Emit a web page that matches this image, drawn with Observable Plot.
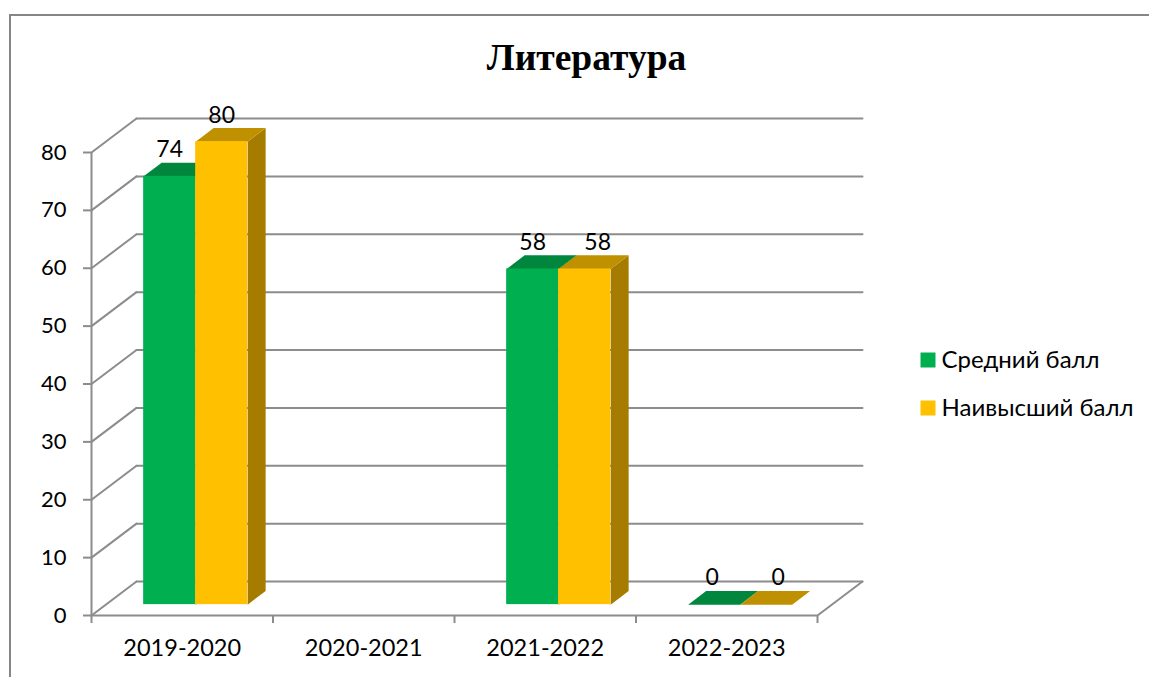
<!DOCTYPE html>
<html lang="ru">
<head>
<meta charset="utf-8">
<script src="https://cdn.jsdelivr.net/npm/d3@7"></script>
<script src="https://cdn.jsdelivr.net/npm/@observablehq/plot@0.6"></script>
<style>
html,body{margin:0;padding:0;background:#fff;overflow:hidden}
#frame{position:absolute;left:9px;top:14px;width:1140px;height:663px;border-top:2px solid #868686;border-left:2px solid #868686;box-sizing:border-box}
#chart{position:absolute;left:0;top:0}
</style>
</head>
<body>
<div id="frame"></div>
<div id="chart"></div>
<script>
const title = "Литература";
const years = ["2019-2020", "2020-2021", "2021-2022", "2022-2023"];
const average = [74, null, 58, 0];
const highest = [80, null, 58, 0];
const yTicks = [0, 10, 20, 30, 40, 50, 60, 70, 80];
const seriesNames = ["Средний балл", "Наивысший балл"];
const frontColors = ["#00B050", "#FFC000"];
const topColors = ["#00863D", "#BF9000"];
const sideColors = ["#008039", "#A67C00"];

const uiFont = "Lato, 'Noto Sans', sans-serif";
const gray = "#8C8C8C";

// 3D projection expressed in data units: one unit of depth moves a point by these amounts
const depthX = 45 / 181.5;
const depthY = 34 / 5.79;
const barFrontDepth = 0.32, barBackDepth = 0.72;
const groupGap = 0.208, barWidth = 0.2865;

const px = (x, d) => x + d * depthX;
const py = (y, d) => y + d * depthY;

const bars = [];
[average, highest].forEach((vals, s) => vals.forEach((v, i) => {
  if (v === null) return;
  const x0 = px(i + groupGap + s * barWidth, barFrontDepth);
  bars.push({series: s, year: i, value: v, x0, x1: x0 + barWidth});
}));

const face = (b, kind) => {
  const dd = (barBackDepth - barFrontDepth);
  const top0 = py(b.value, barFrontDepth), base0 = py(0, barFrontDepth);
  if (kind === "top") return [
    {x: b.x0, y: top0}, {x: b.x1, y: top0},
    {x: b.x1 + dd * depthX, y: top0 + dd * depthY}, {x: b.x0 + dd * depthX, y: top0 + dd * depthY}];
  return [
    {x: b.x1, y: base0}, {x: b.x1, y: top0},
    {x: b.x1 + dd * depthX, y: top0 + dd * depthY}, {x: b.x1 + dd * depthX, y: base0 + dd * depthY}];
};

const polys = (kind, s, fill) => bars.filter(b => b.series === s).map(b =>
  Plot.line(face(b, kind), {x: "x", y: "y", fill, stroke: "none", curve: "linear-closed"}));

const gridBack = yTicks.map(t => [{x: px(0, 1), y: py(t, 1)}, {x: px(4, 1), y: py(t, 1)}]);
const gridSide = yTicks.map(t => [{x: px(0, 0), y: py(t, 0)}, {x: px(0, 1), y: py(t, 1)}]);
const lineStyle = {x: "x", y: "y", stroke: gray, strokeWidth: 2};

const marks = [
  ...gridBack.map(g => Plot.line(g, lineStyle)),
  ...gridSide.map(g => Plot.line(g, lineStyle)),
  Plot.line([{x: px(4, 0), y: py(0, 0)}, {x: px(4, 1), y: py(0, 1)}], lineStyle),
  Plot.ruleX([0], {y1: 0, y2: 80, stroke: gray, strokeWidth: 2}),
  Plot.ruleY([0], {x1: 0, x2: 4, stroke: gray, strokeWidth: 2}),
  Plot.axisY({ticks: yTicks, tickSize: 8, tickPadding: 17, stroke: gray, strokeWidth: 2,
    color: "#000", label: null, fontSize: 22, fontFamily: uiFont, textStroke: "none"}),
  Plot.axisX({ticks: [0, 1, 2, 3, 4], tickSize: 8, stroke: gray, strokeWidth: 2, label: null, tickFormat: () => ""}),
  Plot.text(years, {x: (d, i) => i + 0.5, y: 0, text: d => d, dy: 33, fill: "#000",
    fontSize: 23.5, fontFamily: uiFont}),
];
[0, 1].forEach(s => {
  marks.push(...polys("side", s, sideColors[s]), ...polys("top", s, topColors[s]));
  marks.push(Plot.rect(bars.filter(b => b.series === s), {
    x1: "x0", x2: "x1", y1: py(0, barFrontDepth), y2: b => py(b.value, barFrontDepth),
    fill: frontColors[s], inset: 0}));
});
bars.forEach(b => {
  // Highest-score labels sharing a height with their neighbour are nudged clear of it, as in the source
  const nudge = (b.series === 1 && b.value === 58) ? 13 : (b.value === 0 ? (b.series === 1 ? 12 : -2) : 0);
  marks.push(Plot.text([b], {
    x: d => (d.x0 + d.x1) / 2, y: d => py(d.value, barFrontDepth), text: "value", dx: nudge,
    dy: b.value === 0 ? -20 : -19, lineAnchor: "bottom", fill: "#000", fontSize: 23, fontFamily: uiFont}));
});
marks.push(Plot.text([title], {frameAnchor: "top-left", dx: 586 - 91, dy: 57 - 152,
  text: d => d, textAnchor: "middle", lineAnchor: "middle", fontFamily: "'Liberation Serif', serif",
  fontWeight: "bold", fontSize: 37.5, fill: "#000"}));
seriesNames.forEach((name, i) => {
  const yc = 359.5 + i * 48;
  marks.push(Plot.dot([name], {frameAnchor: "top-left", dx: 927.5 - 91, dy: yc - 152, symbol: "square",
    r: 8.46, fill: frontColors[i], stroke: "none"}));
  marks.push(Plot.text([name], {frameAnchor: "top-left", dx: 941 - 91, dy: yc - 152, text: d => d,
    textAnchor: "start", lineAnchor: "middle", fontSize: 24, fontFamily: uiFont, fill: "#000"}));
});

const chart = Plot.plot({
  width: 1149, height: 677,
  marginLeft: 91, marginRight: 332, marginTop: 152, marginBottom: 62,
  x: {type: "linear", domain: [0, 4]},
  y: {type: "linear", domain: [0, 80]},
  style: {background: "transparent", overflow: "visible"},
  marks
});
document.getElementById("chart").appendChild(chart);
</script>
</body>
</html>
